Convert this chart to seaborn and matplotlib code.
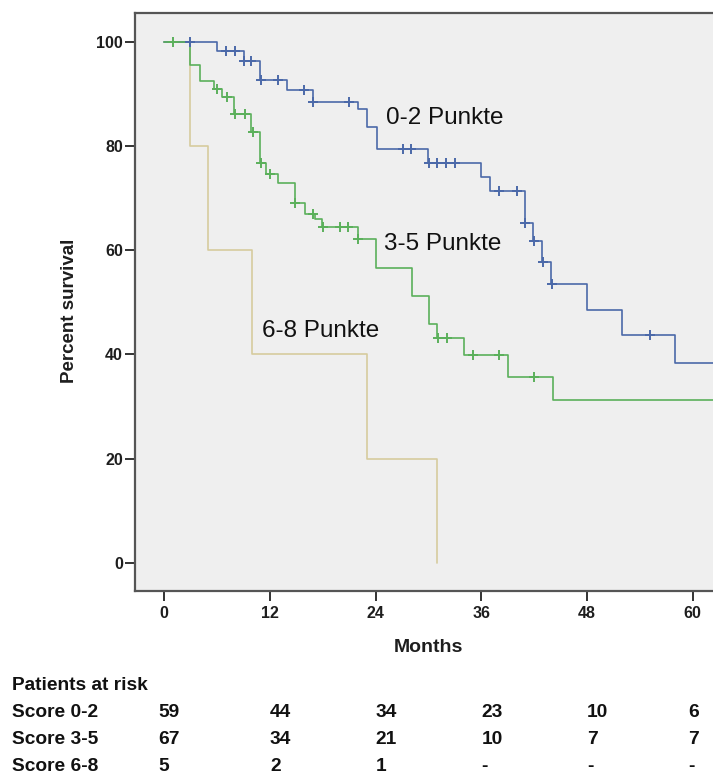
import numpy as np
import pandas as pd
import matplotlib
matplotlib.use("Agg")
import matplotlib.pyplot as plt
from matplotlib import font_manager
from matplotlib.transforms import blended_transform_factory
import seaborn as sns

# Kaplan-Meier curves: event months and survival (%) after each event
months_02 = [0, 6.0, 9.0, 10.9, 13.9, 16.85, 22.0, 23.0, 24.1, 29.95, 35.95,
             36.95, 40.9, 41.9, 42.9, 43.9, 48.0, 52.0, 58.0, 63.0]
surv_02 = [100, 98.3, 96.4, 92.6, 90.7, 88.5, 87.1, 83.7, 79.4, 76.8, 74.1,
           71.4, 65.2, 61.8, 57.8, 53.5, 48.5, 43.7, 38.3, 38.3]
censor_02 = [2.9, 7.0, 8.0, 9.05, 9.9, 11.0, 12.9, 15.9, 16.9, 21.0, 27.1,
             28.0, 30.05, 31.0, 32.0, 33.0, 38.0, 40.0, 41.0, 42.0, 43.0,
             44.0, 55.1]

months_35 = [0, 2.9, 4.0, 5.7, 6.5, 7.9, 9.9, 10.9, 11.6, 12.95, 14.8, 16.0,
             17.1, 17.9, 22.0, 24.0, 28.1, 30.0, 31.0, 34.0, 39.0, 44.1, 63.0]
surv_35 = [100, 95.5, 92.5, 90.9, 89.5, 86.1, 82.6, 76.8, 74.7, 72.9, 69.0,
           67.0, 65.9, 64.5, 62.1, 56.5, 51.2, 45.8, 43.1, 39.9, 35.7, 31.2,
           31.2]
censor_35 = [0.96, 5.95, 7.1, 8.0, 9.2, 10.1, 11.0, 12.0, 14.85, 16.9, 18.0,
             19.95, 20.9, 22.05, 31.05, 32.1, 35.0, 38.0, 42.0]

months_68 = [0, 2.96, 5.0, 10.0, 23.05, 31.0]
surv_68 = [100, 80, 60, 40, 20, 0]
censor_68 = []

group_names = ["0-2 Punkte", "3-5 Punkte", "6-8 Punkte"]
group_colors = ["#4b69a9", "#5bb05b", "#d6cc9e"]

# Patients at risk table
risk_months = [0, 12, 24, 36, 48, 60]
risk_rows = ["Score 0-2", "Score 3-5", "Score 6-8"]
risk_02 = ["59", "44", "34", "23", "10", "6"]
risk_35 = ["67", "34", "21", "10", "7", "7"]
risk_68 = ["5", "2", "1", "-", "-", "-"]

x_ticks = [0, 12, 24, 36, 48, 60]
y_ticks = [0, 20, 40, 60, 80, 100]

sns.set_theme(style="ticks")
available = {f.name for f in font_manager.fontManager.ttflist}
narrow = "Liberation Sans Narrow" if "Liberation Sans Narrow" in available else "Liberation Sans"
plt.rcParams["font.family"] = ["Liberation Sans", "DejaVu Sans"]

W, H, DPI = 713, 776, 100
fig = plt.figure(figsize=(W / DPI, H / DPI), dpi=DPI)
left_px, right_px, top_px, bottom_px = 134.7, 713.0, 12.7, 591.0
ax = fig.add_axes([left_px / W, 1 - bottom_px / H,
                   (right_px - left_px) / W, (bottom_px - top_px) / H])
ax.set_facecolor("#efefef")


def km_frame(months, surv, name):
    return pd.DataFrame({"month": months, "survival": surv, "group": name})


def censor_frame(months_steps, surv_steps, censors, name):
    t = np.asarray(months_steps)
    s = np.asarray(surv_steps)
    c = np.asarray(censors, dtype=float)
    idx = np.searchsorted(t, c, side="right") - 1
    return pd.DataFrame({"month": c, "survival": s[idx] if len(c) else c,
                         "group": name})


curves = {
    "0-2 Punkte": (months_02, surv_02, censor_02),
    "3-5 Punkte": (months_35, surv_35, censor_35),
    "6-8 Punkte": (months_68, surv_68, censor_68),
}
palette = dict(zip(group_names, group_colors))

# draw the smallest group underneath, the 3-5 group on top
for name in ["6-8 Punkte", "0-2 Punkte", "3-5 Punkte"]:
    m, s, c = curves[name]
    sns.lineplot(data=km_frame(m, s, name), x="month", y="survival",
                 color=palette[name], drawstyle="steps-post", estimator=None,
                 sort=False, linewidth=1.2, ax=ax, legend=False)
    if c:
        cf = censor_frame(m, s, c, name)
        sns.scatterplot(data=cf, x="month", y="survival", marker="+",
                        color=palette[name], s=48, linewidth=1.4, ax=ax,
                        legend=False, zorder=3)

ax.set_xlim(-3.36, 62.3)
ax.set_ylim(-5.43, 105.6)
ax.set_xticks(x_ticks)
ax.set_yticks(y_ticks)
ax.set_xticklabels([str(v) for v in x_ticks])
ax.set_yticklabels([str(v) for v in y_ticks])
for lab in ax.get_xticklabels() + ax.get_yticklabels():
    lab.set_fontfamily(narrow)
    lab.set_fontweight("bold")
    lab.set_fontsize(11.5)
    lab.set_color("#1e1e1e")
ax.tick_params(axis="x", length=7.5, width=1.4, color="#333333", pad=3.5)
ax.tick_params(axis="y", length=7, width=1.4, color="#333333", pad=1.5)

for side in ["left", "bottom", "top"]:
    ax.spines[side].set_color("#555555")
    ax.spines[side].set_linewidth(1.6)
ax.spines["right"].set_visible(False)

ax.set_xlabel("Months", fontsize=14, fontweight="bold", color="#1e1e1e")
ax.set_ylabel("Percent survival", fontsize=13.5, fontweight="bold",
              color="#1e1e1e")
ax.xaxis.set_label_coords((428 - left_px) / (right_px - left_px),
                          (bottom_px - 647) / (bottom_px - top_px))
ax.xaxis.label.set_verticalalignment("center")
ax.yaxis.set_label_coords((70 - left_px) / (right_px - left_px),
                          (bottom_px - 311) / (bottom_px - top_px))
ax.yaxis.label.set_verticalalignment("center")

# curve labels
label_pos = {"0-2 Punkte": (25.2, 85.4), "3-5 Punkte": (24.95, 61.1),
             "6-8 Punkte": (11.15, 44.4)}
for name, (lx, ly) in label_pos.items():
    ax.text(lx, ly, name, fontsize=17.5, color="#111111", ha="left",
            va="center")

# patients at risk table
tr = blended_transform_factory(ax.transData, fig.transFigure)
fig.text(11.7 / W, 1 - 685 / H, "Patients at risk", fontsize=13.8,
         fontweight="bold", va="center", ha="left", color="#111111")
row_y = [712.7, 740.0, 766.7]
col_x = [risk_months[0] - 0.7] + risk_months[1:-1] + [risk_months[-1] - 0.5]
for label, values, y in zip(risk_rows, [risk_02, risk_35, risk_68], row_y):
    fig.text(11.7 / W, 1 - y / H, label, fontsize=13.8, fontweight="bold",
             va="center", ha="left", color="#111111")
    for xv, v in zip(col_x, values):
        ax.text(xv, 1 - y / H, v, transform=tr, fontsize=13.8,
                fontweight="bold", va="center", ha="left", color="#111111",
                clip_on=False)

fig.savefig("out.png", dpi=DPI)
